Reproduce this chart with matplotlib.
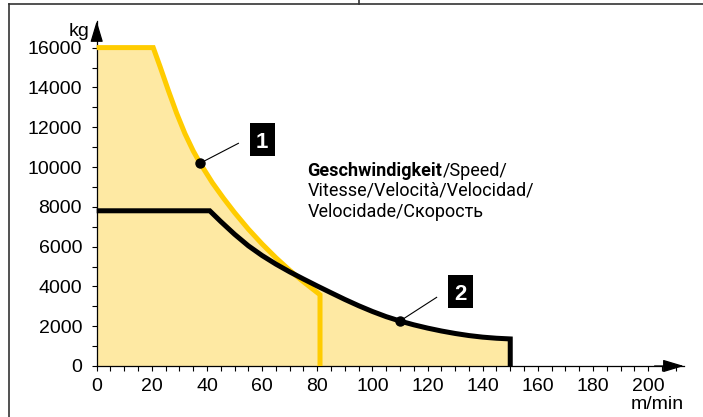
import numpy as np
import matplotlib
matplotlib.use('Agg')
import matplotlib.pyplot as plt
from matplotlib.lines import Line2D
from matplotlib.patches import Rectangle

# ---------- Daten ----------
# Kurve 1 (gelb): Last in kg über Geschwindigkeit in m/min
yellow_x = [0, 20.5, 23, 26, 29, 32, 35, 37.5, 42, 46, 50, 55, 60, 65, 70, 75, 81, 81]
yellow_y = [16000, 16000, 15040, 13840, 12700, 11680, 10810, 10190, 9200, 8430, 7710,
            6880, 6130, 5440, 4810, 4230, 3580, 0]

# Kurve 2 (schwarz)
black_x = [0, 41, 45, 50, 55, 60, 65, 70, 75, 80, 85, 90, 95, 100, 105, 110, 115,
           120, 125, 130, 135, 140, 145, 150, 150]
black_y = [7800, 7800, 7260, 6620, 6040, 5550, 5120, 4730, 4370, 4020, 3680, 3345,
           3030, 2740, 2480, 2260, 2070, 1905, 1760, 1635, 1530, 1450, 1395, 1360, 0]

# Markierungspunkte (Index in den Kurven)
MARK_1 = 7
MARK_2 = 15

x_ticks = list(range(0, 211, 5))
x_labels = [str(v) if v % 20 == 0 and v <= 200 else '' for v in x_ticks]
y_ticks = list(range(0, 16001, 1000))
y_labels = [str(v) if v % 2000 == 0 else '' for v in y_ticks]

text_bold = 'Geschwindigkeit'
text_line1 = '/Speed/'
text_line2 = 'Vitesse/Velocità/Velocidad/'
text_line3 = 'Velocidade/Скорость'

# ---------- Farben ----------
YELLOW = '#FFCC00'
FILL = '#FEE9A3'
BLACK = '#000000'

NARROW = ['Roboto', 'DejaVu Sans']
plt.rcParams['font.family'] = ['Liberation Sans', 'DejaVu Sans']

W, H = 703, 417
fig = plt.figure(figsize=(W / 100, H / 100), dpi=100)

# Achsenposition in Pixeln: x=0 -> 96.7 px, y=0 -> 366 px (von oben)
x0_px, y0_px = 96.7, 366
px_per_x = 2.757
px_per_y = 19.9 / 1000
XMAX = 213
YMAX = (y0_px - 21) / px_per_y
ax = fig.add_axes([x0_px / W, (H - y0_px) / H,
                   XMAX * px_per_x / W, YMAX * px_per_y / H])
ax.set_xlim(0, XMAX)
ax.set_ylim(0, YMAX)
ax.patch.set_alpha(0)

for s in ['top', 'right']:
    ax.spines[s].set_visible(False)
for s in ['left', 'bottom']:
    ax.spines[s].set_linewidth(0.9)
    ax.spines[s].set_zorder(3)

ax.set_xticks(x_ticks)
ax.set_xticklabels(x_labels)
ax.set_yticks(y_ticks)
ax.set_yticklabels(y_labels)
ax.tick_params(axis='x', direction='out', length=3.5, width=0.8, pad=5, labelsize=14)
ax.tick_params(axis='y', direction='out', length=3.5, width=0.8, pad=7, labelsize=14)

# Pfeile an den Achsenenden
arrow = dict(arrowstyle='-|>,head_length=1.0,head_width=0.3', color='black',
             lw=0.9, shrinkA=0, shrinkB=0, mutation_scale=13)
ax.annotate('', xy=(1, 0), xytext=(0.95, 0), xycoords='axes fraction',
            arrowprops=arrow, annotation_clip=False)
ax.annotate('', xy=(0, 1), xytext=(0, 0.95), xycoords='axes fraction',
            arrowprops=arrow, annotation_clip=False)

ax.text(-2.5, 16600, 'kg', ha='right', va='baseline', fontsize=14)
ax.text(213, -1950, 'm/min', ha='right', va='center', fontsize=14)

# Flächen
ax.fill_between(yellow_x, yellow_y, color=FILL, lw=0, zorder=1)
ax.fill_between(black_x, black_y, color=FILL, lw=0, zorder=1)

# Kurven
ax.plot(yellow_x, yellow_y, color=YELLOW, lw=3.6, zorder=4,
        solid_joinstyle='miter', solid_capstyle='butt', clip_on=False)
ax.plot(black_x, black_y, color=BLACK, lw=3.6, zorder=5,
        solid_joinstyle='miter', solid_capstyle='butt', clip_on=False)

# Markierungen mit Nummern
box_w, box_h = 9.1, 1660
marks = [(yellow_x[MARK_1], yellow_y[MARK_1], '1', 51.4, 11190, 60.0, 11360),
         (black_x[MARK_2], black_y[MARK_2], '2', 123.3, 3450, 132.1, 3720)]
for mx, my, num, lx, ly, bx, by in marks:
    ax.plot([mx, lx], [my, ly], color='black', lw=0.8, zorder=6)
    ax.plot(mx, my, 'o', color='black', ms=6.5, zorder=7)
    ax.add_patch(Rectangle((bx - box_w / 2, by - box_h / 2), box_w, box_h,
                           fc='black', ec='none', zorder=8))
    ax.text(bx, by, num, ha='center', va='center_baseline', color='white',
            fontsize=16, fontweight='heavy', zorder=9)

# Beschriftung
tx = 76.5
fs = 13
t1 = ax.text(tx, 9548, text_bold, fontsize=fs, fontweight='bold',
             family=NARROW, va='baseline', ha='left')
ax.annotate(text_line1, xy=(1, 0), xycoords=t1, va='bottom', ha='left',
            fontsize=fs, family=NARROW)
ax.text(tx, 8558, text_line2, fontsize=fs, family=NARROW, va='baseline', ha='left')
ax.text(tx, 7487, text_line3, fontsize=fs, family=NARROW, va='baseline', ha='left')

# Rahmen des Datenblatts
frame = '#333333'
fig.add_artist(Line2D([9 / W, 1], [1 - 4 / H, 1 - 4 / H], color=frame, lw=1.2))
fig.add_artist(Line2D([9 / W, 9 / W], [0, 1 - 4 / H], color=frame, lw=1.2))
fig.add_artist(Line2D([359 / W, 359 / W], [1 - 4 / H, 1], color=frame, lw=1.2))

fig.savefig('out.png', dpi=100)
